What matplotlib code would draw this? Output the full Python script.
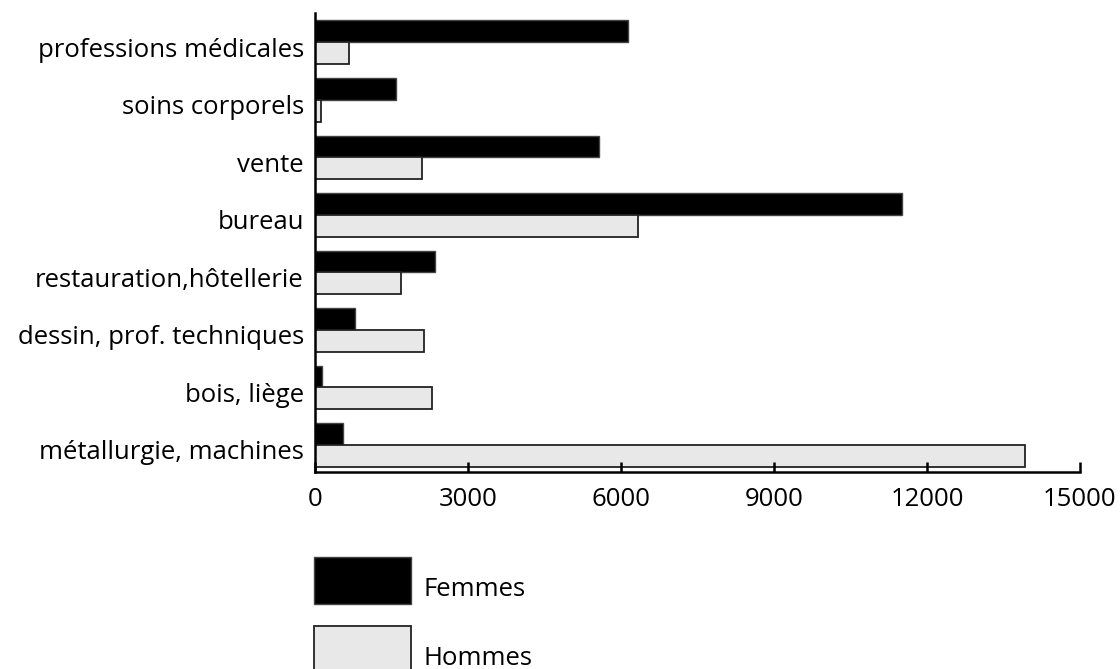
import matplotlib
matplotlib.use("Agg")
import matplotlib.pyplot as plt
import matplotlib.transforms as mtransforms
from matplotlib.patches import Rectangle
import numpy as np

plt.rcParams['font.family'] = ['Open Sans', 'DejaVu Sans']

categories = ["professions médicales", "soins corporels", "vente", "bureau",
              "restauration,hôtellerie", "dessin, prof. techniques",
              "bois, liège", "métallurgie, machines"]
femmes = [6130, 1590, 5560, 11500, 2360, 780, 130, 550]
hommes = [670, 120, 2100, 6340, 1690, 2140, 2300, 13930]
xticks = [0, 3000, 6000, 9000, 12000, 15000]
series_names = ["Femmes", "Hommes"]

FS = 18.5
W, H = 1120, 669
fig = plt.figure(figsize=(W / 100, H / 100), dpi=100)
ax = fig.add_axes([315 / W, 1 - 472 / H, (1080 - 315) / W, (472 - 13) / H])

n = len(categories)
y = np.arange(n)[::-1].astype(float)
bh = 0.38
fem_style = dict(color="black", edgecolor="#444444", linewidth=1.0)
hom_style = dict(color="#e8e8e8", edgecolor="#222222", linewidth=1.3)
ax.barh(y + bh / 2, femmes, height=bh, label=series_names[0], **fem_style)
ax.barh(y - bh / 2, hommes, height=bh, label=series_names[1], **hom_style)

ax.set_xlim(0, 15000)
ax.set_ylim(-0.47, n - 1 + 0.51)
ax.set_xticks(xticks)
ax.set_xticklabels([str(v) for v in xticks], fontsize=FS)
ax.set_yticks(y)
ax.set_yticklabels(categories, fontsize=FS)
ax.tick_params(axis='y', length=0, pad=8)
ax.tick_params(axis='x', direction='in', length=7, width=1.8, pad=11)
offset = mtransforms.ScaledTranslation(0, -5 / 100, fig.dpi_scale_trans)
for lbl in ax.get_yticklabels():
    lbl.set_transform(lbl.get_transform() + offset)

for s in ["top", "right"]:
    ax.spines[s].set_visible(False)
for s in ["left", "bottom"]:
    ax.spines[s].set_linewidth(1.8)
    ax.spines[s].set_color("black")

# legend (manual, positioned in figure pixels)
leg_items = [(series_names[0], fem_style, 557), (series_names[1], hom_style, 626)]
for name, st, top in leg_items:
    r = Rectangle((314 / W, 1 - (top + 47) / H), 97 / W, 47 / H,
                  transform=fig.transFigure, facecolor=st["color"],
                  edgecolor=st["edgecolor"], linewidth=st["linewidth"])
    fig.add_artist(r)
    fig.text(423 / W, 1 - (top + 39) / H, name, fontsize=FS,
             ha="left", va="baseline")

fig.savefig("out.png", dpi=100)
